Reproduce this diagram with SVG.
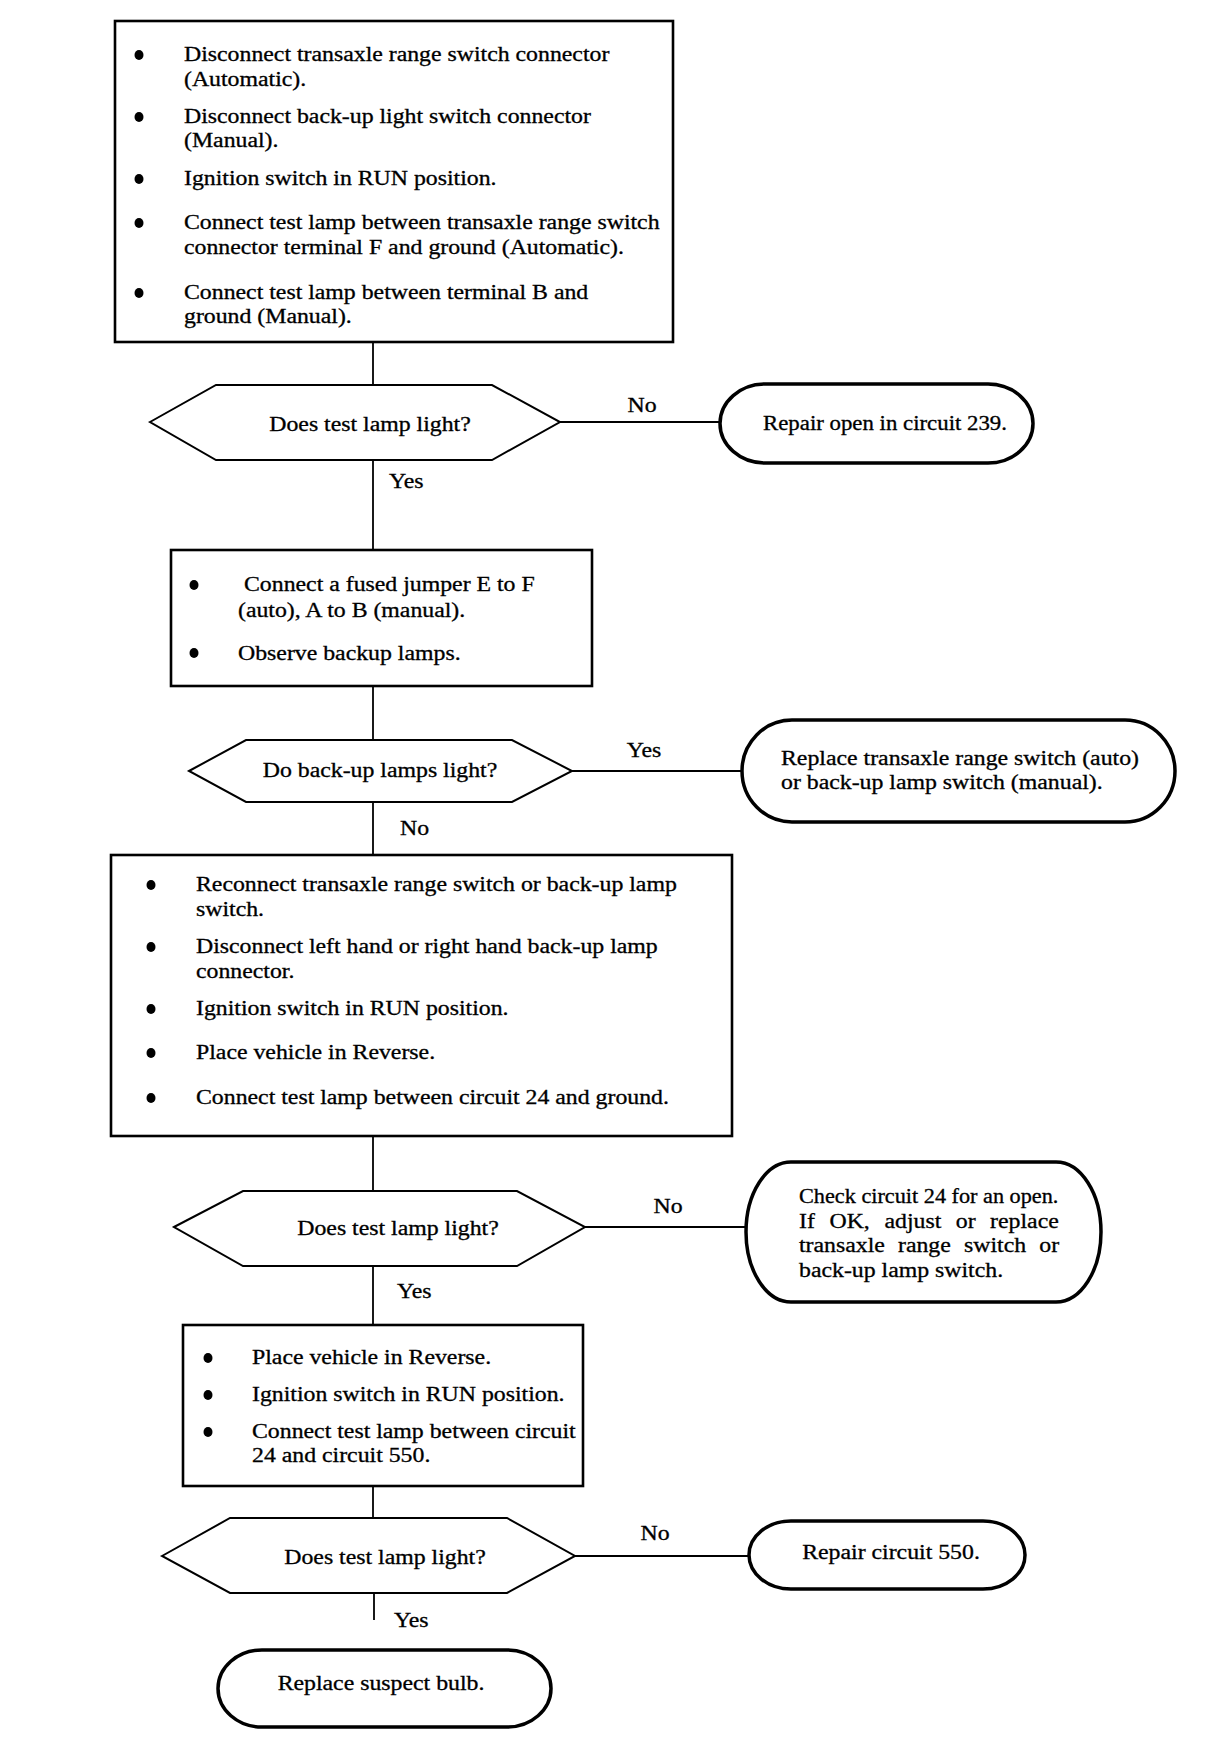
<svg xmlns="http://www.w3.org/2000/svg" width="1216" height="1758" viewBox="0 0 1216 1758">
<style>
.t{font-family:"Liberation Serif","Times New Roman",serif;font-size:20px;fill:#000;stroke:#000;stroke-width:0.3}
.m{text-anchor:middle}
.box{fill:#fff;stroke:#000;stroke-width:2.6}
.dec{fill:#fff;stroke:#000;stroke-width:2}
.term{fill:#fff;stroke:#000;stroke-width:3.5}
.conn line{stroke:#000;stroke-width:1.8}
.blt{fill:#000}
</style>
<rect width="1216" height="1758" fill="#fff"/>
<g id="connectors" class="conn">
<line x1="373" y1="342" x2="373" y2="385"/>
<line x1="560" y1="422" x2="720" y2="422"/>
<line x1="373" y1="460" x2="373" y2="550"/>
<line x1="373" y1="686" x2="373" y2="740"/>
<line x1="572" y1="771" x2="742" y2="771"/>
<line x1="373" y1="802" x2="373" y2="855"/>
<line x1="373" y1="1136" x2="373" y2="1191"/>
<line x1="585" y1="1227" x2="746" y2="1227"/>
<line x1="373" y1="1266" x2="373" y2="1325"/>
<line x1="373" y1="1486" x2="373" y2="1518"/>
<line x1="575" y1="1556" x2="749" y2="1556"/>
<line x1="374" y1="1594" x2="374" y2="1620"/>
<text class="t m" transform="translate(642,412) scale(1.19,1)">No</text>
<text class="t" transform="translate(389,488) scale(1.19,1)">Yes</text>
<text class="t m" transform="translate(644,757) scale(1.19,1)">Yes</text>
<text class="t" transform="translate(400,835) scale(1.19,1)">No</text>
<text class="t m" transform="translate(668,1213) scale(1.19,1)">No</text>
<text class="t" transform="translate(397,1298) scale(1.19,1)">Yes</text>
<text class="t m" transform="translate(655,1540) scale(1.19,1)">No</text>
<text class="t" transform="translate(394,1627) scale(1.19,1)">Yes</text>
</g>
<g id="box1">
<rect class="box" x="115" y="21" width="558" height="321"/>
<ellipse class="blt" cx="139" cy="55" rx="4.5" ry="5"/>
<ellipse class="blt" cx="139" cy="117" rx="4.5" ry="5"/>
<ellipse class="blt" cx="139" cy="179" rx="4.5" ry="5"/>
<ellipse class="blt" cx="139" cy="223" rx="4.5" ry="5"/>
<ellipse class="blt" cx="139" cy="293" rx="4.5" ry="5"/>
<text class="t" transform="translate(184,61) scale(1.19,1)">Disconnect transaxle range switch connector</text>
<text class="t" transform="translate(184,86) scale(1.19,1)">(Automatic).</text>
<text class="t" transform="translate(184,123) scale(1.19,1)">Disconnect back-up light switch connector</text>
<text class="t" transform="translate(184,147) scale(1.19,1)">(Manual).</text>
<text class="t" transform="translate(184,185) scale(1.19,1)">Ignition switch in RUN position.</text>
<text class="t" transform="translate(184,229) scale(1.19,1)">Connect test lamp between transaxle range switch</text>
<text class="t" transform="translate(184,254) scale(1.19,1)">connector terminal F and ground (Automatic).</text>
<text class="t" transform="translate(184,299) scale(1.19,1)">Connect test lamp between terminal B and</text>
<text class="t" transform="translate(184,323) scale(1.19,1)">ground (Manual).</text>
</g>
<g id="decision1">
<polygon class="dec" points="150,422 216,385 492,385 560,422 492,460 216,460"/>
<text class="t m" transform="translate(370,431) scale(1.19,1)">Does test lamp light?</text>
</g>
<g id="term1">
<rect class="term" x="720" y="384" width="313" height="79" rx="45" ry="39.5"/>
<text class="t m" transform="translate(885,430) scale(1.19,1)" textLength="205" lengthAdjust="spacingAndGlyphs">Repair open in circuit 239.</text>
</g>
<g id="box2">
<rect class="box" x="171" y="550" width="421" height="136"/>
<ellipse class="blt" cx="194" cy="585" rx="4.5" ry="5"/>
<ellipse class="blt" cx="194" cy="653" rx="4.5" ry="5"/>
<text class="t" transform="translate(244,591) scale(1.19,1)">Connect a fused jumper E to F</text>
<text class="t" transform="translate(238,617) scale(1.19,1)">(auto), A to B (manual).</text>
<text class="t" transform="translate(238,660) scale(1.19,1)">Observe backup lamps.</text>
</g>
<g id="decision2">
<polygon class="dec" points="189,771 246,740 512,740 572,771 512,802 246,802"/>
<text class="t m" transform="translate(380,777) scale(1.19,1)">Do back-up lamps light?</text>
</g>
<g id="term2">
<rect class="term" x="742" y="720" width="433" height="102" rx="50" ry="51"/>
<text class="t" transform="translate(781,765) scale(1.19,1)">Replace transaxle range switch (auto)</text>
<text class="t" transform="translate(781,789) scale(1.19,1)">or back-up lamp switch (manual).</text>
</g>
<g id="box3">
<rect class="box" x="111" y="855" width="621" height="281"/>
<ellipse class="blt" cx="151" cy="885" rx="4.5" ry="5"/>
<ellipse class="blt" cx="151" cy="947" rx="4.5" ry="5"/>
<ellipse class="blt" cx="151" cy="1009" rx="4.5" ry="5"/>
<ellipse class="blt" cx="151" cy="1053" rx="4.5" ry="5"/>
<ellipse class="blt" cx="151" cy="1098" rx="4.5" ry="5"/>
<text class="t" transform="translate(196,891) scale(1.19,1)">Reconnect transaxle range switch or back-up lamp</text>
<text class="t" transform="translate(196,916) scale(1.19,1)">switch.</text>
<text class="t" transform="translate(196,953) scale(1.19,1)">Disconnect left hand or right hand back-up lamp</text>
<text class="t" transform="translate(196,978) scale(1.19,1)">connector.</text>
<text class="t" transform="translate(196,1015) scale(1.19,1)">Ignition switch in RUN position.</text>
<text class="t" transform="translate(196,1059) scale(1.19,1)">Place vehicle in Reverse.</text>
<text class="t" transform="translate(196,1104) scale(1.19,1)">Connect test lamp between circuit 24 and ground.</text>
</g>
<g id="decision3">
<polygon class="dec" points="174,1227 243,1191 517,1191 585,1227 517,1266 243,1266"/>
<text class="t m" transform="translate(398,1235) scale(1.19,1)">Does test lamp light?</text>
</g>
<g id="term3">
<rect class="term" x="746" y="1162" width="355" height="140" rx="45" ry="70"/>
<text class="t" transform="translate(799,1203) scale(1.19,1)" textLength="218" lengthAdjust="spacingAndGlyphs">Check circuit 24 for an open.</text>
<text class="t" transform="translate(799,1228) scale(1.19,1)"><tspan x="0">If</tspan><tspan x="25.6">OK,</tspan><tspan x="71.8">adjust</tspan><tspan x="131.8">or</tspan><tspan x="160.6">replace</tspan></text>
<text class="t" transform="translate(799,1252) scale(1.19,1)"><tspan x="0">transaxle</tspan><tspan x="83.2">range</tspan><tspan x="138.7">switch</tspan><tspan x="201.9">or</tspan></text>
<text class="t" transform="translate(799,1277) scale(1.19,1)">back-up lamp switch.</text>
</g>
<g id="box4">
<rect class="box" x="183" y="1325" width="400" height="161"/>
<ellipse class="blt" cx="208" cy="1358" rx="4.5" ry="5"/>
<ellipse class="blt" cx="208" cy="1395" rx="4.5" ry="5"/>
<ellipse class="blt" cx="208" cy="1432" rx="4.5" ry="5"/>
<text class="t" transform="translate(252,1364) scale(1.19,1)">Place vehicle in Reverse.</text>
<text class="t" transform="translate(252,1401) scale(1.19,1)">Ignition switch in RUN position.</text>
<text class="t" transform="translate(252,1438) scale(1.19,1)">Connect test lamp between circuit</text>
<text class="t" transform="translate(252,1462) scale(1.19,1)">24 and circuit 550.</text>
</g>
<g id="decision4">
<polygon class="dec" points="162,1556 230,1518 507,1518 575,1556 507,1593 230,1593"/>
<text class="t m" transform="translate(385,1564) scale(1.19,1)">Does test lamp light?</text>
</g>
<g id="term4">
<rect class="term" x="749" y="1521" width="276" height="68" rx="42" ry="34"/>
<text class="t m" transform="translate(891,1559) scale(1.19,1)">Repair circuit 550.</text>
</g>
<g id="term5">
<rect class="term" x="218" y="1650" width="333" height="77" rx="44" ry="38.5"/>
<text class="t m" transform="translate(381,1690) scale(1.19,1)">Replace suspect bulb.</text>
</g>
</svg>
